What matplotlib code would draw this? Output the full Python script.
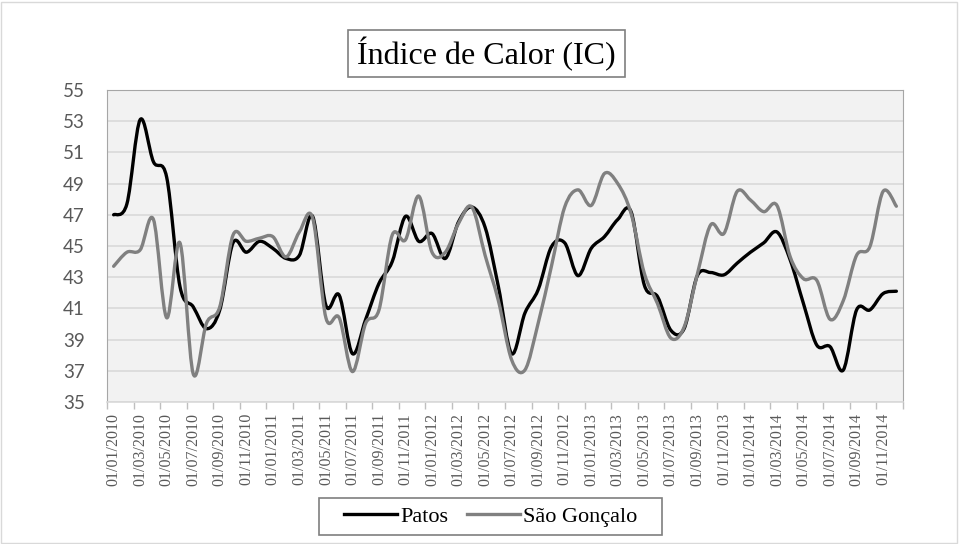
import numpy as np
import matplotlib.pyplot as plt
from matplotlib.path import Path
from matplotlib.patches import PathPatch, Rectangle
from matplotlib.lines import Line2D

# =========================================================
# DATA (monthly, jan/2010 - dec/2014)
# =========================================================

patos = [47.0, 47.7, 53.1, 50.4, 49.4, 42.4, 41.1, 39.7, 40.9, 45.2,
         44.6, 45.3, 44.85, 44.2, 44.4, 46.9, 41.2, 41.85, 38.1, 40.3,
         42.6, 44.0, 46.9, 45.3, 45.8, 44.2, 46.55, 47.5, 46.2, 42.4,
         38.1, 40.7, 42.2, 44.95, 45.2, 43.1, 44.85, 45.6, 46.7, 47.2,
         42.5, 41.75, 39.6, 39.7, 43.1, 43.3, 43.15, 43.9, 44.6, 45.2,
         45.9, 44.1, 41.3, 38.65, 38.55, 37.05, 40.9, 40.9, 41.95, 42.1]

sao_goncalo = [43.7, 44.6, 44.75, 46.7, 40.4, 45.2, 36.8, 40.05, 41.1, 45.7,
               45.3, 45.5, 45.6, 44.3, 45.9, 46.8, 40.4, 40.4, 36.95, 40.05,
               40.9, 45.7, 45.4, 48.2, 44.6, 44.6, 46.45, 47.5, 44.4, 41.5,
               37.7, 37.05, 40.05, 43.7, 47.5, 48.6, 47.6, 49.65, 49.0, 47.1,
               43.25, 41.3, 39.1, 39.8, 43.2, 46.35, 45.8, 48.5, 47.95, 47.2,
               47.6, 44.3, 42.9, 42.8, 40.3, 41.5, 44.4, 44.95, 48.5, 47.55]

tick_labels = ["01/01/2010", "01/03/2010", "01/05/2010", "01/07/2010", "01/09/2010", "01/11/2010",
               "01/01/2011", "01/03/2011", "01/05/2011", "01/07/2011", "01/09/2011", "01/11/2011",
               "01/01/2012", "01/03/2012", "01/05/2012", "01/07/2012", "01/09/2012", "01/11/2012",
               "01/01/2013", "01/03/2013", "01/05/2013", "01/07/2013", "01/09/2013", "01/11/2013",
               "01/01/2014", "01/03/2014", "01/05/2014", "01/07/2014", "01/09/2014", "01/11/2014"]

y_ticks = list(range(35, 56, 2))


def smooth_path(y):
    # Excel-like smoothed line: cubic bezier through every point
    y = np.asarray(y, dtype=float)
    x = np.arange(len(y), dtype=float)
    pts = np.column_stack([x, y])
    ext = np.vstack([pts[0], pts, pts[-1]])
    verts = [pts[0]]
    codes = [Path.MOVETO]
    for i in range(len(pts) - 1):
        p0, p1, p2, p3 = ext[i], ext[i + 1], ext[i + 2], ext[i + 3]
        c1 = p1 + (p2 - p0) / 6.0
        c2 = p2 - (p3 - p1) / 6.0
        verts += [c1, c2, p2]
        codes += [Path.CURVE4] * 3
    return Path(verts, codes)


serif = 'Liberation Serif'
W, H = 959, 544

fig = plt.figure(figsize=(9.59, 5.44), dpi=100)
fig.patch.set_facecolor('white')
fig.patches.append(Rectangle((0.001, 0.002), 0.997, 0.995, transform=fig.transFigure,
                             fill=False, edgecolor='#d9d9d9', linewidth=1))

ax = fig.add_axes([107 / W, 1 - 402 / H, 796 / W, 312 / H])
ax.set_facecolor('#f2f2f2')

for y, color in [(patos, 'black'), (sao_goncalo, '#808080')]:
    patch = PathPatch(smooth_path(y), facecolor='none', edgecolor=color,
                      linewidth=2.4, capstyle='round', joinstyle='round', zorder=3)
    ax.add_patch(patch)

ax.set_xlim(-0.5, len(patos) - 0.5)
ax.set_ylim(35, 55)
ax.set_yticks(y_ticks)
ax.set_yticklabels([str(v) for v in y_ticks])
for lbl in ax.get_yticklabels():
    lbl.set_fontfamily('Lato')
    lbl.set_fontsize(13.5)
    lbl.set_color('#595959')
ax.yaxis.grid(True, color='#d9d9d9', linewidth=1.2)
ax.set_axisbelow(True)
ax.tick_params(axis='y', length=0, pad=16)

# tick marks at category boundaries, labels at category centres
ax.set_xticks(np.arange(-0.5, len(patos), 2))
ax.set_xticklabels([])
ax.set_xticks(np.arange(0, len(patos), 2), minor=True)
ax.set_xticklabels(tick_labels, minor=True, rotation=90)
for lbl in ax.get_xticklabels(minor=True):
    lbl.set_fontfamily(serif)
    lbl.set_fontsize(11.5)
    lbl.set_color('#595959')
ax.tick_params(axis='x', which='major', length=5, color='#bfbfbf', width=1)
ax.tick_params(axis='x', which='minor', length=0, pad=8)

for side in ['left', 'top', 'right']:
    ax.spines[side].set_color('#a6a6a6')
ax.spines['bottom'].set_color('#d9d9d9')
ax.spines['bottom'].set_linewidth(1.2)

# title in a box
fig.patches.append(Rectangle((348 / W, 1 - 77 / H), 277 / W, 47 / H, transform=fig.transFigure,
                             facecolor='white', edgecolor='#7f7f7f', linewidth=1.2))
fig.text(486.5 / W, 1 - 54 / H, 'Índice de Calor (IC)', ha='center', va='center',
         fontfamily=serif, fontsize=23)

# legend in a box
fig.patches.append(Rectangle((319 / W, 1 - 535 / H), 343 / W, 37 / H, transform=fig.transFigure,
                             facecolor='white', edgecolor='#7f7f7f', linewidth=1.2))
handles = [Line2D([], [], color='black', linewidth=2.4),
           Line2D([], [], color='#808080', linewidth=2.4)]
fig.legend(handles, ['Patos', 'São Gonçalo'], loc='center', bbox_to_anchor=(490.5 / W, 1 - 516.5 / H),
           ncol=2, frameon=False, prop={'family': serif, 'size': 16},
           handlelength=2.4, handletextpad=0.12, columnspacing=0.85,
           borderpad=0, borderaxespad=0)

plt.savefig('out.png', dpi=100)
